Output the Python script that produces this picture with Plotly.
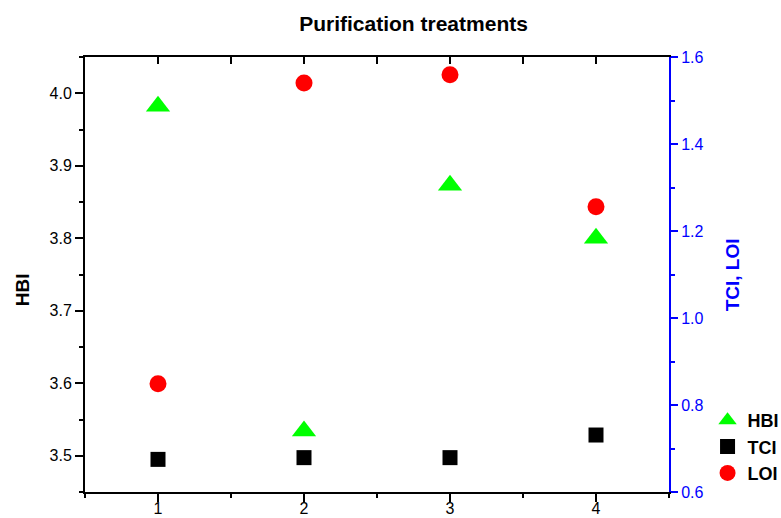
import plotly.graph_objects as go

# Treatment index on the x axis
treatments = [1, 2, 3, 4]

# Index values per treatment
hbi = [3.982, 3.534, 3.873, 3.800]
tci = [0.675, 0.679, 0.679, 0.731]
loi = [0.849, 1.540, 1.559, 1.256]

# Axis tick values
x_ticks = [1, 2, 3, 4]
hbi_ticks = [3.5, 3.6, 3.7, 3.8, 3.9, 4.0]
right_ticks = [0.6, 0.8, 1.0, 1.2, 1.4, 1.6]

FONT = "Liberation Sans, Arial, sans-serif"

fig = go.Figure()

fig.add_trace(go.Scatter(
    x=treatments, y=hbi, name="HBI", mode="markers",
    marker=dict(symbol="triangle-up", size=21, color="#00ff00", line=dict(width=0)),
    xaxis="x", yaxis="y",
))
fig.add_trace(go.Scatter(
    x=treatments, y=tci, name="TCI", mode="markers",
    marker=dict(symbol="square", size=15, color="#000000", line=dict(width=0)),
    xaxis="x", yaxis="y2",
))
fig.add_trace(go.Scatter(
    x=treatments, y=loi, name="LOI", mode="markers",
    marker=dict(symbol="circle", size=17, color="#ff0000", line=dict(width=0)),
    xaxis="x", yaxis="y2",
))

axis_font = dict(family=FONT, size=16, color="#000000")

fig.update_layout(
    width=781, height=518,
    margin=dict(l=85, r=112, t=57, b=26, autoexpand=False),
    paper_bgcolor="white", plot_bgcolor="white",
    font=dict(family=FONT),
    showlegend=True,
    title=dict(
        text="<b>Purification treatments</b>",
        x=0.5295, xref="container", xanchor="center",
        y=1 - 24 / 518, yref="container", yanchor="middle",
        font=dict(family=FONT, size=21, color="#000000"),
    ),
    legend=dict(
        x=1.066, y=0.207, xanchor="left", yanchor="top",
        bgcolor="rgba(0,0,0,0)", borderwidth=0,
        font=dict(family=FONT, size=18, color="#000000", weight="bold"),
        itemsizing="trace",
    ),
    xaxis=dict(
        range=[0.5, 4.5], tickvals=x_ticks, ticktext=[str(v) for v in x_ticks],
        ticks="outside", ticklen=8, tickwidth=1.5, tickcolor="#000000",
        minor=dict(dtick=0.5, tick0=0.5, ticks="outside", ticklen=4,
                   tickwidth=1.5, tickcolor="#000000"),
        showline=True, linecolor="#000000", linewidth=2,
        showgrid=False, zeroline=False, tickfont=axis_font,
        ticklabelstandoff=-7,
    ),
    xaxis2=dict(
        range=[0.5, 4.5], overlaying="x", side="top", matches=None,
        tickvals=x_ticks, showticklabels=False,
        ticks="inside", ticklen=7, tickwidth=1.5, tickcolor="#000000",
        minor=dict(dtick=0.5, tick0=0.5, ticks="inside", ticklen=7,
                   tickwidth=1.5, tickcolor="#000000"),
        showline=True, linecolor="#000000", linewidth=2,
        showgrid=False, zeroline=False,
    ),
    yaxis=dict(
        range=[3.45, 4.05], tickvals=hbi_ticks, tickformat=".1f",
        ticks="outside", ticklen=8, tickwidth=1.5, tickcolor="#000000",
        minor=dict(dtick=0.05, tick0=3.45, ticks="outside", ticklen=4,
                   tickwidth=1.5, tickcolor="#000000"),
        showline=True, linecolor="#000000", linewidth=2,
        showgrid=False, zeroline=False, tickfont=axis_font,
    ),
    yaxis2=dict(
        range=[0.6, 1.6], tickvals=right_ticks, tickformat=".1f",
        overlaying="y", side="right", anchor="x",
        ticks="outside", ticklen=7, tickwidth=1.5, tickcolor="#0000ff",
        minor=dict(dtick=0.1, tick0=0.6, ticks="outside", ticklen=4,
                   tickwidth=1.5, tickcolor="#0000ff"),
        showline=True, linecolor="#0000ff", linewidth=2,
        showgrid=False, zeroline=False,
        tickfont=dict(family=FONT, size=16, color="#0000ff"),
    ),
    annotations=[
        dict(text="<b>HBI</b>", textangle=-90, xref="paper", yref="paper",
             x=(22 - 85) / 584, y=(491.7 - 290) / 435, xanchor="center", yanchor="middle",
             showarrow=False, font=dict(family=FONT, size=19, color="#000000")),
        dict(text="<b>TCI, LOI</b>", textangle=-90, xref="paper", yref="paper",
             x=(732 - 85) / 584, y=(491.7 - 275) / 435, xanchor="center", yanchor="middle",
             showarrow=False, font=dict(family=FONT, size=19, color="#0000ff")),
    ],
)

# Invisible trace to activate the top mirror axis
fig.add_trace(go.Scatter(x=[None], y=[None], xaxis="x2", yaxis="y",
                         showlegend=False, hoverinfo="skip"))

fig.write_html("out.html")
